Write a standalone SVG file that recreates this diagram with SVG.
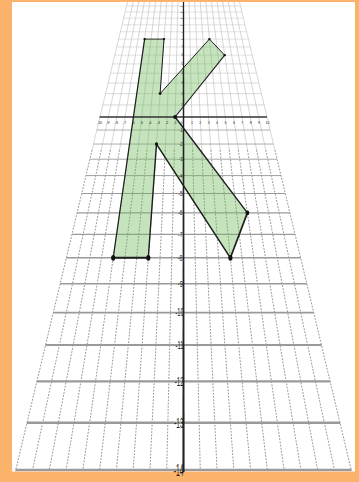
<svg xmlns="http://www.w3.org/2000/svg" width="359" height="482" viewBox="0 0 359 482">
<style>
.vs{fill:none;stroke:#c6c6c6;stroke-width:0.7}
.vd{fill:none;stroke:#7a7a7a;stroke-width:0.8;stroke-dasharray:1.8 1.4}
.hp{stroke:#c2c2c2}
.hn{stroke:#9a9a9a}
.lb{font-family:"Liberation Sans",Arial,sans-serif;fill:#1a1a1a}
.ly{text-anchor:end}
.lx{text-anchor:middle;font-size:3.5px}
.ed{stroke:#1e1e1e;stroke-linecap:round;fill:none}
.dot{fill:#111}
</style>
<defs>
<clipPath id="paper"><rect x="12" y="2" width="343" height="469.5"/></clipPath>
</defs>
<rect x="0" y="0" width="359" height="482" fill="#FBB36B"/>
<rect x="12" y="2" width="343" height="469.5" fill="#ffffff"/>
<g id="grid" clip-path="url(#paper)">
<path class="vs" d="M189.10 2L192.64 150M194.70 2L201.78 150M200.30 2L210.92 150M205.90 2L220.06 150M211.50 2L229.21 150M217.10 2L238.35 150M222.70 2L247.49 150M228.30 2L256.63 150M233.90 2L265.77 150M239.50 2L274.91 150M177.90 2L174.36 150M172.30 2L165.22 150M166.70 2L156.08 150M161.10 2L146.94 150M155.50 2L137.79 150M149.90 2L128.65 150M144.30 2L119.51 150M138.70 2L110.37 150M133.10 2L101.23 150M127.50 2L92.09 150"/>
<path class="vd" d="M192.64 150L200.30 471M201.78 150L217.10 471M210.92 150L233.90 471M220.06 150L250.70 471M229.21 150L267.50 471M238.35 150L284.29 471M247.49 150L301.09 471M256.63 150L317.89 471M265.77 150L334.69 471M274.91 150L351.49 471M174.36 150L166.70 471M165.22 150L149.90 471M156.08 150L133.10 471M146.94 150L116.30 471M137.79 150L99.50 471M128.65 150L82.71 471M119.51 150L65.91 471M110.37 150L49.11 471M101.23 150L32.31 471M92.09 150L15.51 471"/>
<g class="hp">
<line x1="126.56" y1="5.94" x2="240.44" y2="5.94" stroke-width="0.5"/>
<line x1="125.13" y1="11.91" x2="241.87" y2="11.91" stroke-width="0.5"/>
<line x1="123.63" y1="18.19" x2="243.37" y2="18.19" stroke-width="0.5"/>
<line x1="122.05" y1="24.81" x2="244.95" y2="24.81" stroke-width="0.5"/>
<line x1="120.38" y1="31.78" x2="246.62" y2="31.78" stroke-width="0.5"/>
<line x1="118.62" y1="39.13" x2="248.38" y2="39.13" stroke-width="0.5"/>
<line x1="116.75" y1="46.92" x2="250.25" y2="46.92" stroke-width="0.5"/>
<line x1="114.78" y1="55.16" x2="252.22" y2="55.16" stroke-width="0.5"/>
<line x1="112.69" y1="63.90" x2="254.31" y2="63.90" stroke-width="0.52"/>
<line x1="110.47" y1="73.19" x2="256.53" y2="73.19" stroke-width="0.55"/>
<line x1="108.10" y1="83.09" x2="258.90" y2="83.09" stroke-width="0.58"/>
<line x1="105.57" y1="93.65" x2="261.43" y2="93.65" stroke-width="0.62"/>
<line x1="102.87" y1="104.94" x2="264.13" y2="104.94" stroke-width="0.66"/>
</g>
<g class="hn">
<line x1="96.86" y1="130.04" x2="270.14" y2="130.04" stroke-width="0.75"/>
<line x1="93.51" y1="144.05" x2="273.49" y2="144.05" stroke-width="0.81"/>
<line x1="89.89" y1="159.19" x2="277.11" y2="159.19" stroke-width="0.88"/>
<line x1="85.96" y1="175.60" x2="281.04" y2="175.60" stroke-width="0.95"/>
<line x1="81.69" y1="193.44" x2="285.31" y2="193.44" stroke-width="1.04"/>
<line x1="77.03" y1="212.92" x2="289.97" y2="212.92" stroke-width="1.14"/>
<line x1="71.92" y1="234.27" x2="295.08" y2="234.27" stroke-width="1.25"/>
<line x1="66.30" y1="257.76" x2="300.70" y2="257.76" stroke-width="1.38"/>
<line x1="60.08" y1="283.76" x2="306.92" y2="283.76" stroke-width="1.53"/>
<line x1="53.16" y1="312.66" x2="313.84" y2="312.66" stroke-width="1.70"/>
<line x1="45.42" y1="345.00" x2="321.58" y2="345.00" stroke-width="1.91"/>
<line x1="36.71" y1="381.42" x2="330.29" y2="381.42" stroke-width="2.16"/>
<line x1="26.82" y1="422.75" x2="340.18" y2="422.75" stroke-width="2.46"/>
<line x1="15.50" y1="470.05" x2="351.50" y2="470.05" stroke-width="2.6"/>
</g>
</g>
<g id="k-fill">
<polygon points="144.6,39.1 164.0,39.1 160.1,93.6 209.4,39.1 224.7,55.2 175.1,117.0 247.4,212.9 230.4,257.8 156.5,144.05 148.3,257.8 113.2,257.8" fill="#6fbb5c" fill-opacity="0.4"/>
</g>
<g id="axes">
<line x1="99.5" y1="117" x2="267" y2="117" stroke="#333" stroke-width="1.3"/>
<polygon points="182.85,2 184.15,2 184.6,472 182.4,472" fill="#222"/>
</g>
<g id="x-labels" class="lb lx">
<text transform="translate(99.5,122.7) scale(1,1.2)" y="1.26">-10</text>
<text transform="translate(107.9,122.7) scale(1,1.2)" y="1.26">-9</text>
<text transform="translate(116.3,122.7) scale(1,1.2)" y="1.26">-8</text>
<text transform="translate(124.7,122.7) scale(1,1.2)" y="1.26">-7</text>
<text transform="translate(133.1,122.7) scale(1,1.2)" y="1.26">-6</text>
<text transform="translate(141.5,122.7) scale(1,1.2)" y="1.26">-5</text>
<text transform="translate(149.9,122.7) scale(1,1.2)" y="1.26">-4</text>
<text transform="translate(158.3,122.7) scale(1,1.2)" y="1.26">-3</text>
<text transform="translate(166.7,122.7) scale(1,1.2)" y="1.26">-2</text>
<text transform="translate(175.1,122.7) scale(1,1.2)" y="1.26">-1</text>
<text transform="translate(181.6,122.4) scale(1,1.2)" y="1.26">0</text>
<text transform="translate(191.9,122.7) scale(1,1.2)" y="1.26">1</text>
<text transform="translate(200.3,122.7) scale(1,1.2)" y="1.26">2</text>
<text transform="translate(208.7,122.7) scale(1,1.2)" y="1.26">3</text>
<text transform="translate(217.1,122.7) scale(1,1.2)" y="1.26">4</text>
<text transform="translate(225.5,122.7) scale(1,1.2)" y="1.26">5</text>
<text transform="translate(233.9,122.7) scale(1,1.2)" y="1.26">6</text>
<text transform="translate(242.3,122.7) scale(1,1.2)" y="1.26">7</text>
<text transform="translate(250.7,122.7) scale(1,1.2)" y="1.26">8</text>
<text transform="translate(259.1,122.7) scale(1,1.2)" y="1.26">9</text>
<text transform="translate(267.5,122.7) scale(1,1.2)" y="1.26">10</text>
</g>
<g id="y-labels" class="lb ly">
<text transform="translate(183,5.94) scale(1,0.818)" y="0.86" font-size="2.39">13</text>
<text transform="translate(183,11.91) scale(1,0.839)" y="0.88" font-size="2.45">12</text>
<text transform="translate(183,18.19) scale(1,0.860)" y="0.90" font-size="2.51">11</text>
<text transform="translate(183,24.81) scale(1,0.883)" y="0.93" font-size="2.58">10</text>
<text transform="translate(183,31.78) scale(1,0.907)" y="0.95" font-size="2.65">9</text>
<text transform="translate(183,39.13) scale(1,0.932)" y="0.98" font-size="2.72">8</text>
<text transform="translate(183,46.92) scale(1,0.959)" y="1.01" font-size="2.80">7</text>
<text transform="translate(183,55.16) scale(1,0.987)" y="1.04" font-size="2.88">6</text>
<text transform="translate(183,63.90) scale(1,1.017)" y="1.07" font-size="2.97">5</text>
<text transform="translate(183,73.19) scale(1,1.049)" y="1.10" font-size="3.06">4</text>
<text transform="translate(183,83.09) scale(1,1.083)" y="1.14" font-size="3.16">3</text>
<text transform="translate(183,93.65) scale(1,1.120)" y="1.18" font-size="3.27">2</text>
<text transform="translate(183,104.94) scale(1,1.159)" y="1.22" font-size="3.38">1</text>
<text transform="translate(182.5,130.04) scale(1,1.245)" y="1.31" font-size="3.80">-1</text>
<text transform="translate(182.5,144.05) scale(1,1.293)" y="1.36" font-size="3.95">-2</text>
<text transform="translate(182.5,159.19) scale(1,1.345)" y="1.41" font-size="4.15">-3</text>
<text transform="translate(182.5,175.60) scale(1,1.401)" y="1.47" font-size="4.35">-4</text>
<text transform="translate(182.5,193.44) scale(1,1.463)" y="1.54" font-size="4.55">-5</text>
<text transform="translate(182.5,212.92) scale(1,1.530)" y="1.61" font-size="4.80">-6</text>
<text transform="translate(182.5,234.27) scale(1,1.603)" y="1.68" font-size="5.05">-7</text>
<text transform="translate(182.5,257.76) scale(1,1.684)" y="1.77" font-size="5.3">-8</text>
<text transform="translate(182.8,283.76) scale(1,1.773)" y="1.86" font-size="5.55">-9</text>
<text transform="translate(183.6,312.66) scale(1,1.873)" y="1.97" font-size="5.6">-10</text>
<text transform="translate(183.6,345.00) scale(1,1.984)" y="2.08" font-size="5.9">-11</text>
<text transform="translate(183.6,381.42) scale(1,2.109)" y="2.22" font-size="6.2">-12</text>
<text transform="translate(183.6,422.75) scale(1,2.251)" y="2.36" font-size="6.5">-13</text>
<text transform="translate(183.6,470.05) scale(1,2.414)" y="2.54" font-size="6.8">-14</text>
</g>
<g id="k-edges">
<line class="ed" x1="144.6" y1="39.1" x2="164.0" y2="39.1" stroke-width="0.9"/>
<line class="ed" x1="164.0" y1="39.1" x2="160.1" y2="93.6" stroke-width="1.0"/>
<line class="ed" x1="160.1" y1="93.6" x2="209.4" y2="39.1" stroke-width="1.0"/>
<line class="ed" x1="209.4" y1="39.1" x2="224.7" y2="55.2" stroke-width="1.0"/>
<line class="ed" x1="224.7" y1="55.2" x2="175.1" y2="117.0" stroke-width="1.1"/>
<line class="ed" x1="175.1" y1="117.0" x2="247.4" y2="212.9" stroke-width="1.4"/>
<line class="ed" x1="247.4" y1="212.9" x2="230.4" y2="257.8" stroke-width="1.7"/>
<line class="ed" x1="230.4" y1="257.8" x2="156.5" y2="144.05" stroke-width="1.5"/>
<line class="ed" x1="156.5" y1="144.05" x2="148.3" y2="257.8" stroke-width="1.4"/>
<line class="ed" x1="148.3" y1="257.8" x2="113.2" y2="257.8" stroke-width="2.1"/>
<line class="ed" x1="113.2" y1="257.8" x2="144.6" y2="39.1" stroke-width="1.2"/>
</g>
<g id="k-vertices" class="dot">
<ellipse cx="144.6" cy="39.1" rx="1.2" ry="1.1"/>
<ellipse cx="164.0" cy="39.1" rx="1.2" ry="1.1"/>
<ellipse cx="209.4" cy="39.1" rx="1.2" ry="1.1"/>
<ellipse cx="224.7" cy="55.2" rx="1.25" ry="1.15"/>
<ellipse cx="160.1" cy="93.6" rx="1.4" ry="1.3"/>
<ellipse cx="175.1" cy="117.0" rx="1.9" ry="1.9"/>
<ellipse cx="156.5" cy="144.05" rx="1.6" ry="1.75"/>
<ellipse cx="247.4" cy="212.9" rx="1.9" ry="2.4"/>
<ellipse cx="230.4" cy="257.8" rx="2.1" ry="2.9"/>
<ellipse cx="148.3" cy="257.8" rx="2.1" ry="2.9"/>
<ellipse cx="113.2" cy="257.8" rx="2.1" ry="2.9"/>
</g>
</svg>
